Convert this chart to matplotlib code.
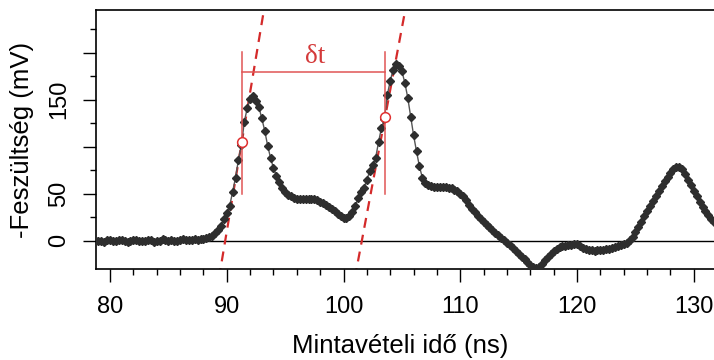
import numpy as np
import matplotlib
matplotlib.use("Agg")
import matplotlib.pyplot as plt

plt.rcParams['font.family'] = ['Liberation Sans', 'DejaVu Sans']

# Sampled waveform: 0.25 ns sampling interval starting at 78.75 ns
t_start = 78.75
t_step = 0.25
voltage = [
    0.5, -0.5, 0, -1, 0.5,
    1, 0, -0.5, 0.5,
    1, 0, -1, 0,
    0.5, 1, 0, -0.5,
    0, 1, 0.5, -1,
    -0.5, 0, 1.5, 1,
    0, 0.5, -0.5, 0,
    1, 2, 1, 0.5,
    1, 1.5, 1, 1.5,
    2, 2.5,
    3.5, 5, 8, 11, 16, 23, 29, 37, 52, 67, 86, 102, 126, 141, 151, 154,
    149, 142, 130, 117, 101, 88, 77, 69, 62, 56, 52, 49, 47, 45.5, 44.5,
    44, 44, 44, 44.5, 44.5, 44, 43, 41.5, 40, 38, 36, 33.5, 31, 28.5, 26,
    24.5, 24.5, 26.5, 30, 37, 45, 52, 56, 65, 74, 80, 88, 105, 120, 129,
    155, 170, 182, 188, 186, 180, 168, 152, 132, 112, 95, 79, 67, 61, 59.5,
    58, 57.5, 57.5, 57, 57, 57, 56.5, 55.5, 54, 52.5, 50, 47, 43, 38, 34,
    30, 26, 23, 20, 17, 14.5, 11.5, 8.5, 5.5, 3, 0.5, -2, -5, -8, -11,
    -14, -17, -20, -23, -26, -28.5, -29.5, -28, -25, -21, -17, -14, -11, -9, -7,
    -6, -5.5, -5, -4.5, -4, -3.5, -6, -8, -9, -10, -10.5, -11, -10.5, -10, -9.5,
    -9, -8.5, -8, -7, -6, -5, -3.5, -2, 0.5, 4, 9, 14, 20, 26, 32,
    37, 42, 48, 53, 58, 63, 68, 72, 76, 78.5, 78.5, 76, 71, 65, 59,
    53, 47, 41, 36, 31, 27, 23, 20,
]
time_ns = t_start + t_step * np.arange(len(voltage))

# Rising-edge tangents: anchor point (ns, mV) and slope (mV/ns)
edge_times = [91.28, 103.57]
edge_values = [104.5, 132.0]
edge_slopes = [74.0, 66.0]

# Marker bracket for the delay between the two edges
bracket_low = 49.4
bracket_high = 200.4
bracket_level = 179.8
delay_label = "δt"
delay_label_pos = (97.55, 188.7)

x_major = [80, 90, 100, 110, 120, 130]
x_minor = list(range(82, 132, 2))
y_major = [0, 50, 100, 150, 200]
y_major_labels = ["0", "50", "", "150", ""]
y_minor = [25, 75, 125, 175, 225]

fig = plt.figure(figsize=(7.14, 3.6), dpi=100)
ax = fig.add_axes([96 / 714, 1 - 269.3 / 360, 620 / 714, 259.0 / 360])

ax.set_xlim(78.8, 131.9)
ax.set_ylim(-30.5, 245)

ax.axhline(0, color="black", lw=1.0, zorder=1)

# Tangent lines along the rising edges
y_span = np.array([-40.0, 260.0])
for t0, v0, k in zip(edge_times, edge_values, edge_slopes):
    xs = t0 + (y_span - v0) / k
    ax.plot(xs, y_span, color="#d42a2a", lw=1.6, dashes=(4.5, 3.2), zorder=2)

# Waveform
ax.plot(time_ns, voltage, color="#555555", lw=1.0, zorder=3)
ax.plot(time_ns, voltage, ls="none", marker="D", ms=4.0, color="#2e2e2e",
        mec="#2e2e2e", zorder=4)

# Delay bracket
red_thin = "#e05555"
for t0 in edge_times:
    ax.plot([t0, t0], [bracket_low, bracket_high], color=red_thin, lw=1.1, zorder=5)
ax.plot(edge_times, [bracket_level, bracket_level], color=red_thin, lw=1.1, zorder=5)
ax.plot(edge_times, edge_values, ls="none", marker="o", ms=7.0, mfc="white",
        mec="#e03030", mew=1.1, zorder=6)
ax.text(delay_label_pos[0], delay_label_pos[1], delay_label, color="#d43a3a",
        fontsize=19.5, family=["Liberation Serif", "DejaVu Serif"],
        ha="center", va="baseline", zorder=6)

# Axes styling
for side in ("top", "left", "bottom"):
    ax.spines[side].set_linewidth(1.2)
ax.spines["right"].set_visible(False)

ax.set_xticks(x_major)
ax.set_xticks(x_minor, minor=True)
ax.set_yticks(y_major)
ax.set_yticklabels(y_major_labels, rotation=90, va="center")
ax.set_yticks(y_minor, minor=True)
ax.tick_params(axis="both", which="major", length=9.5, width=1.0, labelsize=17)
ax.tick_params(axis="both", which="minor", length=4.3, width=1.0)
ax.tick_params(axis="x", which="major", pad=10)
ax.tick_params(axis="y", which="major", pad=9)

ax.set_xlabel("Mintavételi idő (ns)", fontsize=18.5)
ax.xaxis.set_label_coords((400 - 96) / 620, (269.3 - 346) / 259.0)
ax.xaxis.label.set_va("center")
ax.set_ylabel("-Feszültség (mV)", fontsize=18.5)
ax.yaxis.set_label_coords((22 - 96) / 620, 0.5)
ax.yaxis.label.set_va("center")

fig.savefig("out.png", dpi=100)
